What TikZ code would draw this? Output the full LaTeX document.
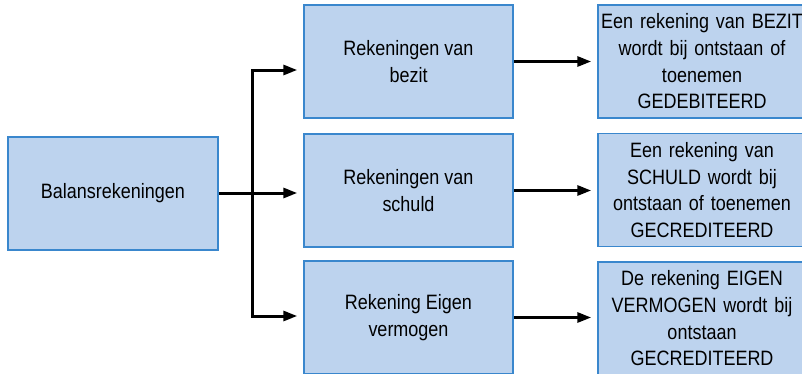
\documentclass[tikz,border=0pt]{standalone}
\usepackage{fontspec}
\setmainfont[FakeStretch=0.865]{Liberation Sans}
\usetikzlibrary{arrows.meta}
\definecolor{boxfill}{RGB}{189,211,238}
\definecolor{boxline}{RGB}{58,135,205}
\tikzset{
  acct/.style={draw=boxline, fill=boxfill, line width=1.5pt, inner sep=0pt,
    minimum width=210pt, minimum height=113pt, align=center,
    font=\fontsize{20.8}{26.7}\selectfont},
  rule/.style={acct, minimum width=208pt, text width=206pt},
  flow/.style={line width=3pt, -{Triangle[length=14pt,width=10pt]}, shorten >=6pt},
  wire/.style={line width=3pt}
}
\begin{document}
\begin{tikzpicture}[x=1pt,y=-1pt]
\clip (0,0) rectangle (802,373);
\fill[white] (0,0) rectangle (802,373);

% root account type
\node[acct] (bal) at (113,193.5) {Balansrekeningen};

% three account groups
\node[acct, minimum width=209pt] (m1) at (408.5,61.5)  {Rekeningen van\\bezit};
\node[acct, minimum width=209pt] (m2) at (408.5,190.5) {Rekeningen van\\schuld};
\node[acct, minimum width=209pt] (m3) at (408.5,317.5) {Rekening Eigen\\vermogen};

% booking rules
\node[rule] (r1) at (702,61.5)  {Een rekening van BEZIT\\wordt bij ontstaan of\\toenemen\\GEDEBITEERD};
\node[rule] (r2) at (702,190)   {Een rekening van\\SCHULD wordt bij\\ontstaan of toenemen\\GECREDITEERD};
\node[rule] (r3) at (702,318.5) {De rekening EIGEN\\VERMOGEN wordt bij\\ontstaan\\GECREDITEERD};

% branching from the root
\coordinate (j)   at (252,193);
\coordinate (j1)  at (252,70);
\coordinate (j3)  at (252,316);
\draw[wire] (bal.east |- j) -- (j);
\draw[flow] (j) -- (j -| m2.west);
\draw[wire, line cap=rect] (j1) -- (j3);
\draw[flow] (j1) -- (j1 -| m1.west);
\draw[flow] (j3) -- (j3 -| m3.west);

% from group to rule
\draw[flow] (m1.east) -- (m1.east -| r1.west);
\draw[flow] (m2.east) -- (m2.east -| r2.west);
\draw[flow] (m3.east) -- (m3.east -| r3.west);
\end{tikzpicture}
\end{document}
